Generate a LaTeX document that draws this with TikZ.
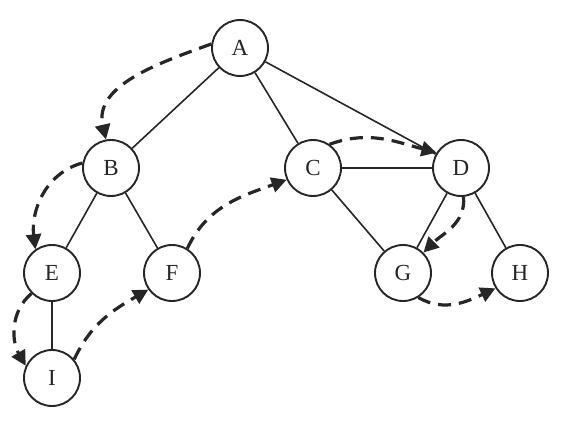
\documentclass[tikz,border=0pt]{standalone}
\usepackage{fontspec}
\setmainfont{Liberation Serif}
\usetikzlibrary{arrows.meta}
\begin{document}
\begin{tikzpicture}[x=1pt,y=-1pt,
  vtx/.style={circle,draw=black!85,line width=1.9pt,minimum size=56pt,inner sep=0pt,
    font=\fontsize{23}{27}\selectfont,text=black!85,fill=white},
  edge/.style={line width=1.6pt,draw=black!85},
  trav/.style={line width=3.2pt,draw=black!85,dash pattern=on 13pt off 8pt,
    -{Triangle[length=15pt,width=15pt]}}]
\fill[white] (0,0) rectangle (564,422);
\useasboundingbox (0,0) rectangle (564,422);
\node[vtx] (A) at (240,48) {A};
\node[vtx] (B) at (111,168) {B};
\node[vtx] (C) at (313,168) {C};
\node[vtx] (D) at (461,168) {D};
\node[vtx] (E) at (52,273) {E};
\node[vtx] (F) at (172,273) {F};
\node[vtx] (G) at (403,273) {G};
\node[vtx] (H) at (520,273) {H};
\node[vtx] (I) at (52,378) {I};
\draw[edge] (A) -- (B);
\draw[edge] (A) -- (C);
\draw[edge] (A) -- (D);
\draw[edge] (B) -- (E);
\draw[edge] (B) -- (F);
\draw[edge] (C) -- (D);
\draw[edge] (C) -- (G);
\draw[edge] (D) -- (G);
\draw[edge] (D) -- (H);
\draw[edge] (E) -- (I);
\draw[trav] (A.172) to[out=200,in=103] (B.100);
\draw[trav] (B.170) to[out=195,in=97] (E.125);
\draw[trav] (E.225) to[out=220,in=120] (I.155);
\draw[trav] (I.40) to[out=65,in=210] (F.215);
\draw[trav] (F.58) to[out=65,in=200] (C.204);
\draw[trav] (C.55) to[out=20,in=165] (D.148);
\draw[trav] (D.-85) to[out=-85,in=45] (G.45);
\draw[trav] (G.-58) to[out=-30,in=205] (H.-148);
\end{tikzpicture}
\end{document}
